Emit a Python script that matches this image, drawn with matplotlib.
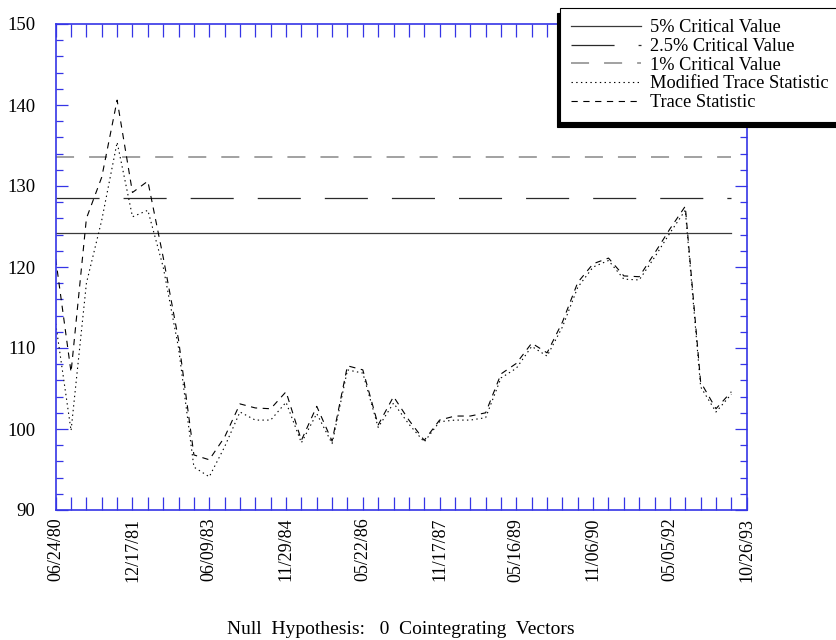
import matplotlib
matplotlib.use("Agg")
import matplotlib.pyplot as plt
from matplotlib.ticker import MultipleLocator, FixedLocator
import numpy as np

plt.rcParams['font.family'] = ['Liberation Serif', 'DejaVu Serif']
plt.rcParams['lines.scale_dashes'] = False

# ---- data ----
date_labels = ['06/24/80', '12/17/81', '06/09/83', '11/29/84', '05/22/86',
               '11/17/87', '05/16/89', '11/06/90', '05/05/92', '10/26/93']
trace_stat = [121.0, 107.0, 126.0, 131.1, 140.6, 129.2, 130.6, 121.2, 111.0, 96.8,
              96.2, 99.0, 103.1, 102.6, 102.5, 104.6, 98.6, 102.8, 98.5, 107.8,
              107.3, 100.5, 104.0, 101.1, 98.6, 101.1, 101.6, 101.6, 102.0, 106.8,
              108.1, 110.6, 109.4, 113.2, 118.1, 120.4, 121.1, 118.9, 118.8, 121.7,
              124.7, 127.5, 105.8, 102.5, 104.6]
modified_trace = [113.0, 99.8, 118.0, 125.8, 135.4, 126.2, 127.0, 120.0, 110.0, 95.3,
                  94.1, 97.8, 102.1, 101.1, 101.1, 103.3, 98.3, 101.9, 98.2, 107.3,
                  106.9, 100.2, 103.2, 100.6, 98.4, 100.9, 101.1, 101.1, 101.4, 106.3,
                  107.5, 110.2, 109.0, 112.6, 117.5, 120.0, 120.8, 118.5, 118.4, 121.2,
                  124.2, 127.0, 105.2, 102.1, 104.3]
crit_5 = 124.2
crit_25 = 128.5
crit_1 = 133.6
series_names = ['5% Critical Value', '2.5% Critical Value', '1% Critical Value',
                'Modified Trace Statistic', 'Trace Statistic']
xlabel_text = 'Null  Hypothesis:   0  Cointegrating  Vectors'

n = len(trace_stat)
x = np.arange(n)

W, H = 837, 640
fig = plt.figure(figsize=(W / 100, H / 100), dpi=100)
ax = fig.add_axes([55.7 / W, 1 - 510 / H, (746.7 - 55.7) / W, (510 - 24) / H])

blue = '#3535e6'
lw = 0.9
h5, = ax.plot(x, [crit_5] * n, color='#3a3a3a', lw=lw, linestyle='-')
h25, = ax.plot(x, [crit_25] * n, color='#2a2a2a', lw=lw, linestyle=(0, (31, 17.3)))
h1, = ax.plot(x, [crit_1] * n, color='#9a9a9a', lw=1.3, linestyle=(0, (13, 10.8)))
hm, = ax.plot(x, modified_trace, color='black', lw=0.8, linestyle=(0, (1.0, 2.4)))
ht, = ax.plot(x, trace_stat, color='black', lw=0.8, linestyle=(0, (4.5, 4.0)))

ax.set_xlim(0, n)
ax.set_ylim(90, 150)

ax.xaxis.set_major_locator(FixedLocator(np.arange(0, n + 1, 5)))
ax.xaxis.set_minor_locator(FixedLocator(np.arange(0, n + 1, 1)))
ax.set_xticklabels(date_labels, rotation=90, fontsize=13)
ax.yaxis.set_major_locator(MultipleLocator(10))
ax.yaxis.set_minor_locator(MultipleLocator(2))

ax.tick_params(axis='x', which='both', direction='in', top=True, bottom=True,
               length=9.4, width=lw, color=blue, pad=5.5)
ax.tick_params(axis='y', which='major', direction='in', left=True, right=True,
               length=8.6, width=lw, color=blue, pad=14.5, labelsize=13.5)
ax.tick_params(axis='y', which='minor', direction='in', left=True, right=True,
               length=4.7, width=lw, color=blue)
for s in ax.spines.values():
    s.set_color(blue)
    s.set_linewidth(1.2)

ax.set_xlabel(xlabel_text, fontsize=14, labelpad=28)

leg = fig.legend([h5, h25, h1, hm, ht], series_names,
                 loc='upper left', bbox_to_anchor=(560 / W, 1 - 8 / H),
                 bbox_transform=fig.transFigure,
                 fontsize=13.2, handlelength=3.8, handletextpad=0.5,
                 labelspacing=0.09, borderpad=0.62, borderaxespad=0,
                 fancybox=False, framealpha=1,
                 shadow={'ox': -2.5, 'oy': -3.5, 'facecolor': 'black',
                         'edgecolor': 'black', 'alpha': 1})
leg.get_frame().set_edgecolor('black')
leg.get_frame().set_linewidth(0.8)

fig.savefig('out.png', dpi=100)
